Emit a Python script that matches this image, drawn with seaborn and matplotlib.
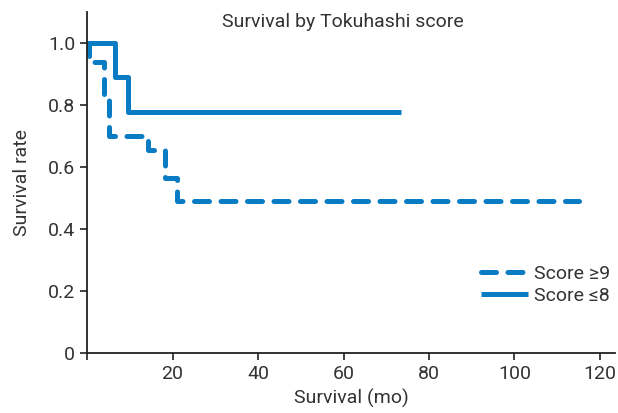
import pandas as pd
import numpy as np
import matplotlib.pyplot as plt
import seaborn as sns

# step points
high_months = [0, 0.5, 4.0, 5.0, 14.3, 18.2, 21.0, 115.0]
high_surv = [1.0, 0.94, 0.82, 0.70, 0.655, 0.565, 0.49, 0.49]
low_months = [0, 6.5, 9.5, 73.5]
low_surv = [1.0, 0.889, 0.778, 0.778]
groups = ['Score \u22659', 'Score \u22648']

x_ticks = [0, 20, 40, 60, 80, 100, 120]
x_labels = ['', '20', '40', '60', '80', '100', '120']
y_ticks = [0, 0.2, 0.4, 0.6, 0.8, 1.0]
y_labels = ['0', '0.2', '0.4', '0.6', '0.8', '1.0']

df = pd.DataFrame({
    'months': high_months + low_months,
    'surv': high_surv + low_surv,
    'group': [groups[0]] * len(high_months) + [groups[1]] * len(low_months),
})

sns.set_style('ticks')
plt.rcParams['font.family'] = ['Roboto', 'DejaVu Sans']
text_color = '#333333'
blue = '#0a7cc4'
lw = 3.6

fig = plt.figure(figsize=(6.18, 4.13), dpi=100)
ax = fig.add_axes([0.141, 0.145, 0.854, 0.826])

sns.lineplot(data=df, x='months', y='surv', hue='group', style='group',
             palette={groups[0]: blue, groups[1]: blue},
             dashes={groups[0]: (3, 2.3), groups[1]: ''},
             estimator=None, drawstyle='steps-post', linewidth=lw,
             ax=ax)
for ln in ax.get_lines():
    ln.set_dash_capstyle('round')
    ln.set_solid_capstyle('butt')

ax.set_xlim(0, 123.5)
ax.set_ylim(0, 1.1)
ax.set_xticks(x_ticks)
ax.set_xticklabels(x_labels)
ax.set_yticks(y_ticks)
ax.set_yticklabels(y_labels)
ax.tick_params(direction='out', length=5, width=1.2, colors='#222222',
               labelcolor=text_color, labelsize=14)
for s in ['left', 'bottom']:
    ax.spines[s].set_linewidth(1.3)
    ax.spines[s].set_color('#222222')
sns.despine(ax=ax)

ax.set_xlabel('Survival (mo)', fontsize=14, color=text_color, labelpad=4)
ax.set_ylabel('Survival rate', fontsize=14, color=text_color, labelpad=12)
ax.text(0.485, 0.97, 'Survival by Tokuhashi score', transform=ax.transAxes,
        ha='center', va='center', fontsize=14, color=text_color)

handles, labels = ax.get_legend_handles_labels()
leg = ax.legend(handles=handles, labels=labels, loc='lower right',
                bbox_to_anchor=(1.025, 0.09), frameon=False, fontsize=14,
                handlelength=2.4, handletextpad=0.35, labelspacing=0.2)
for t in leg.get_texts():
    t.set_color(text_color)
for h in leg.get_lines():
    h.set_linewidth(lw)
    h.set_dash_capstyle('round')

fig.savefig('out.png', dpi=100)
